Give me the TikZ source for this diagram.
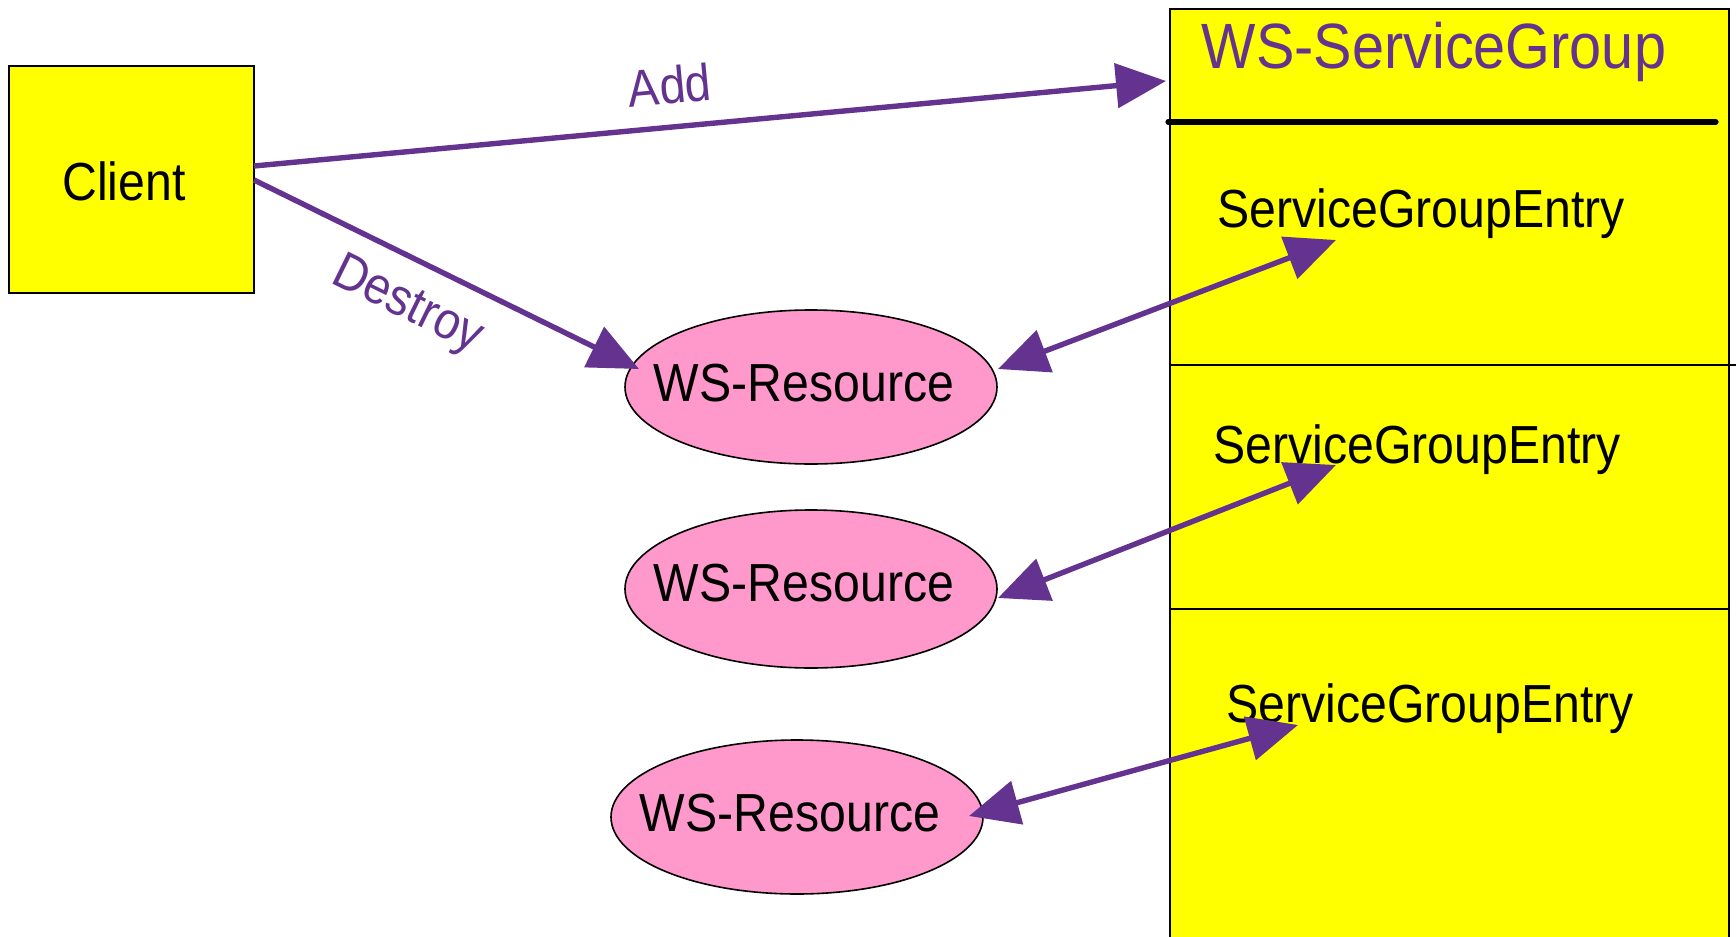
\documentclass[tikz,border=0pt]{standalone}
\usepackage{fontspec}
\setmainfont[FakeStretch=0.9]{Liberation Sans}
\usetikzlibrary{arrows.meta,shapes.geometric}
\definecolor{wspurple}{RGB}{99,51,143}
\definecolor{wspink}{RGB}{255,153,204}
\definecolor{wsyellow}{RGB}{255,255,0}
\begin{document}
\begin{tikzpicture}[x=0.5pt,y=-0.5pt,
  txt/.style={font=\fontsize{26.8}{30}\selectfont, inner sep=0pt},
  lbl/.style={font=\fontsize{26}{30}\selectfont, text=wspurple, inner sep=0pt},
  resource/.style={ellipse, draw=black, line width=0.8pt, fill=wspink, minimum width=186pt, minimum height=77pt, inner sep=0pt},
  conn/.style={draw=wspurple, line width=2.7pt, -{Triangle[length=25pt,width=22pt]}},
  dconn/.style={draw=wspurple, line width=2.7pt, {Triangle[length=25pt,width=22pt]}-{Triangle[length=25pt,width=22pt]}}]
\useasboundingbox (0,0) rectangle (1736,937);
\clip (0,0) rectangle (1736,937);
% service group box
\draw[fill=wsyellow, line width=0.8pt] (1170,9) rectangle (1729,960);
\draw[line width=2.6pt, line cap=round] (1168,122) -- (1716,122);
\draw[line width=0.8pt] (1170,365) -- (1736,365);
\draw[line width=0.8pt] (1170,609) -- (1729,609);
\node[font=\fontsize{32}{36}\selectfont, text=wspurple, inner sep=0pt] (sg) at (1434,52) {WS-ServiceGroup};
\node[txt] (e1) at (1421,214) {ServiceGroupEntry};
\node[txt] (e2) at (1417,450) {ServiceGroupEntry};
\node[txt] (e3) at (1430,709) {ServiceGroupEntry};
% client
\node[draw=black, fill=wsyellow, line width=0.8pt, minimum width=122.5pt, minimum height=113.5pt, inner sep=0pt] (client) at (131.5,179.5) {};
\node[txt] (clientt) at (124,181) {Client};
% resources
\node[resource] (r1) at (811,387) {};
\node[resource, minimum height=79pt] (r2) at (811,589) {};
\node[resource] (r3) at (797,817) {};
\node[txt] (r1t) at (804,383) {WS-Resource};
\node[txt] (r2t) at (804,583) {WS-Resource};
\node[txt] (r3t) at (790,813) {WS-Resource};
% endpoints
\coordinate (addS) at (254,166);
\coordinate (addE) at (1166,81);
\coordinate (desS) at (254,180);
\coordinate (desE) at (639,369);
\coordinate (a1) at (998,369);
\coordinate (b1) at (1336,240);
\coordinate (a2) at (998,598);
\coordinate (b2) at (1336,465);
\coordinate (a3) at (969,816);
\coordinate (b3) at (1298,725);
% connectors
\draw[conn] (addS) -- node[lbl, sloped, pos=0.46, above=10pt] {Add} (addE);
\draw[conn] (desS) -- node[lbl, sloped, pos=0.45, below=10pt] {Destroy} (desE);
\draw[dconn] (a1) -- (b1);
\draw[dconn] (a2) -- (b2);
\draw[dconn] (a3) -- (b3);
\end{tikzpicture}
\end{document}
